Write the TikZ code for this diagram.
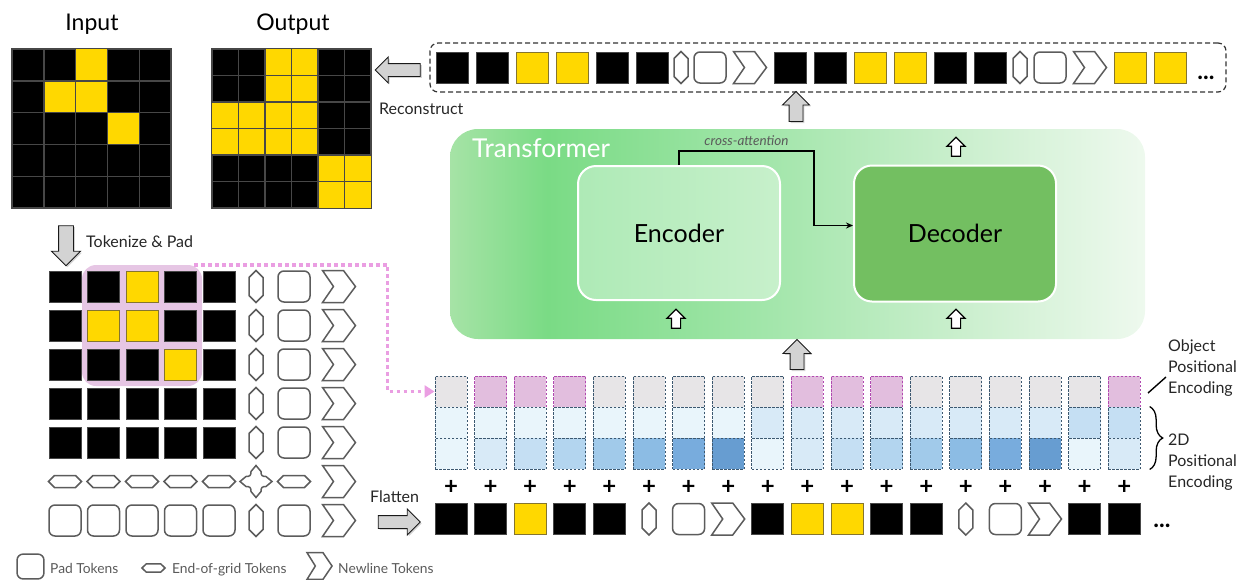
\documentclass[tikz,border=0pt]{standalone}
\usepackage{fontspec}
\setmainfont{Lato}
\usetikzlibrary{shapes.arrows,arrows.meta,positioning,calc,decorations.pathreplacing,shadows}

\definecolor{cellyel}{HTML}{FFD800}
\definecolor{yelrim}{HTML}{85752E}
\definecolor{cellrim}{HTML}{474747}
\definecolor{tokline}{HTML}{5C5C5C}
\definecolor{objpink}{HTML}{E2BEDE}
\definecolor{objrim}{HTML}{B14AB0}
\definecolor{objgray}{HTML}{E7E5E7}
\definecolor{perim}{HTML}{3C5870}
\definecolor{hlpink}{HTML}{E6C6E4}
\definecolor{linkpink}{HTML}{EA9EE2}
\definecolor{arrgray}{HTML}{D3D3D3}
\definecolor{txgray}{HTML}{5A5A5A}
\definecolor{bl0}{HTML}{E9F5FB}
\definecolor{bl1}{HTML}{D8EAF7}
\definecolor{bl2}{HTML}{C5DFF3}
\definecolor{bl3}{HTML}{B3D5EF}
\definecolor{bl4}{HTML}{A1CAEA}
\definecolor{bl5}{HTML}{8CBCE4}
\definecolor{bl6}{HTML}{78ACDD}
\definecolor{bl7}{HTML}{679DD1}
\definecolor{trA}{HTML}{A6E3A6}
\definecolor{trB}{HTML}{7ADB85}
\definecolor{trC}{HTML}{A3E6AB}
\definecolor{trD}{HTML}{CBEFCE}
\definecolor{trE}{HTML}{EEF9EE}
\definecolor{encL}{HTML}{AEEAB6}
\definecolor{encR}{HTML}{C7F0CB}
\definecolor{decfill}{HTML}{73BF61}

\pgfdeclarehorizontalshading{trshade}{100bp}{color(0bp)=(trA); color(25bp)=(trA); color(32bp)=(trB); color(48bp)=(trC); color(62bp)=(trD); color(75bp)=(trE); color(100bp)=(trE)}

\tikzstyle{gridframe} = [rectangle, minimum size=159pt, inner sep=0pt, fill=black, draw=cellrim, line width=1.4pt]
\tikzstyle{gridline} = [draw=cellrim, line width=1.4pt]
\tikzstyle{tokshape} = [draw=tokline, line width=1.5pt, fill=white, line join=miter]
\tikzstyle{bigarrow} = [single arrow, draw=black!90, fill=arrgray, line width=0.9pt, inner sep=6.5pt, single arrow head extend=6.5pt, drop shadow={shadow xshift=1.5pt, shadow yshift=-1.5pt, opacity=0.35}]
\tikzstyle{smallarrow} = [single arrow, draw=black, fill=white, line width=1.2pt, inner sep=4pt, minimum height=19pt, single arrow head extend=4.5pt, shape border rotate=90]
\tikzstyle{pecell} = [rectangle, minimum width=32pt, minimum height=31pt, inner sep=0pt, draw=perim, dash pattern=on 2.5pt off 1.5pt, line width=0.9pt]
\tikzstyle{objon} = [fill=objpink, draw=objrim]
\tikzstyle{objoff} = [fill=objgray]
\tikzstyle{plussign} = [font=\fontsize{24}{24}\selectfont\bfseries, inner sep=0pt]
\tikzstyle{dots} = [font=\fontsize{24}{24}\selectfont\bfseries, inner sep=0pt, anchor=base]
\tikzstyle{objlink} = [draw=linkpink, line width=3.5pt, dash pattern=on 3.5pt off 3.5pt, -{Triangle[length=10pt,width=12pt]}]
\tikzstyle{xattn} = [draw=black, line width=1.3pt, -{Stealth[length=7pt,width=6pt]}]
\tikzstyle{gridtitle} = [font=\fontsize{23}{27}\selectfont, inner sep=0pt, anchor=base]
\tikzstyle{steptext} = [font=\fontsize{16}{19}\selectfont, inner sep=0pt, anchor=base west, text=black!85]
\tikzstyle{sidenote} = [font=\fontsize{16}{21}\selectfont, inner sep=0pt, anchor=west, align=left, text=black!85]
\tikzstyle{keytext} = [font=\fontsize{13.8}{16}\selectfont, text=txgray, inner sep=0pt, anchor=base west]
\tikzstyle{trbox} = [rectangle, minimum width=695pt, minimum height=210pt, rounded corners=28pt, shading=trshade]
\tikzstyle{encbox} = [rectangle, minimum width=202pt, minimum height=134pt, rounded corners=18pt, draw=white, line width=2pt, left color=encL, right color=encR, font=\fontsize{25}{30}\selectfont]
\tikzstyle{decbox} = [rectangle, minimum width=202pt, minimum height=136pt, rounded corners=18pt, draw=white, line width=2pt, fill=decfill, font=\fontsize{25}{30}\selectfont]

\tikzset{
  tokb/.pic={\draw[fill=black, draw=cellrim, line width=1pt] (-16,-15.5) rectangle (16,15.5);},
  toky/.pic={\draw[fill=cellyel, draw=yelrim, line width=1pt] (-16,-15.5) rectangle (16,15.5);},
  tokp/.pic={\draw[tokshape, rounded corners=6pt] (-16,-15.5) rectangle (16,15.5);},
  toke/.pic={\draw[tokshape] (0,-16)--(7,-9)--(7,9)--(0,16)--(-7,9)--(-7,-9)--cycle;},
  tokh/.pic={\draw[tokshape] (-16.5,0)--(-10.5,-6)--(10.5,-6)--(16.5,0)--(10.5,6)--(-10.5,6)--cycle;},
  tokn/.pic={\draw[tokshape] (-16.5,-16)--(4.5,-16)--(16.5,0)--(4.5,16)--(-16.5,16)--(-5.5,0)--cycle;},
  toks/.pic={\draw[tokshape] (0,-16)--(5,-10) .. controls (5,-6) and (6,-5) .. (10,-5)--(16,0)--(10,5) .. controls (6,5) and (5,6) .. (5,10)--(0,16)--(-5,10) .. controls (-5,6) and (-6,5) .. (-10,5)--(-16,0)--(-10,-5) .. controls (-6,-5) and (-5,-6) .. (-5,-10)--cycle;}
}

\begin{document}
\begin{tikzpicture}[x=1pt, y=-1pt]
	\useasboundingbox (0,0) rectangle (1249,579);

	% Input grid
	\node[gridframe] (ingrid) at (91.5,128.5) {};
	\foreach \r/\c in {0/2,1/1,1/2,2/3}
		\fill[cellyel] ({12+31.8*\c},{49+31.8*\r}) rectangle ++(31.8,31.8);
	\foreach \k in {1,...,4}
		\draw[gridline] ({12+31.8*\k},49) -- ++(0,159) (12,{49+31.8*\k}) -- ++(159,0);
	\draw[gridline] (ingrid.north west) rectangle (ingrid.south east);
	\node[gridtitle] (inlbl) at (92,30) {Input};

	% Output grid
	\node[gridframe] (outgrid) at (291.5,128.5) {};
	\foreach \r/\c in {0/2,0/3,1/2,1/3,2/0,2/1,2/2,2/3,3/0,3/1,3/2,3/3,4/4,4/5,5/4,5/5}
		\fill[cellyel] ({212+26.5*\c},{49+26.5*\r}) rectangle ++(26.5,26.5);
	\foreach \k in {1,...,5}
		\draw[gridline] ({212+26.5*\k},49) -- ++(0,159) (212,{49+26.5*\k}) -- ++(159,0);
	\draw[gridline] (outgrid.north west) rectangle (outgrid.south east);
	\node[gridtitle] (outlbl) at (293,30) {Output};

	% Output sequence
	\node[draw=black!80, line width=1.2pt, dash pattern=on 5pt off 3pt, rounded corners=8pt, minimum width=796pt, minimum height=49pt] (outseq) at (828,67.5) {};
	\foreach \x/\t in {452/b,492/b,532/y,572/y,612/b,652/b,681/e,710/p,750/n,790/b,830/b,870/y,910/y,950/b,990/b,1020/e,1050/p,1090/n,1130/y,1170/y}
		\pic at (\x,67.5) {tok\t};
	\node[dots] (outmore) at (1206,79) {...};
	\node[bigarrow, minimum height=45pt, inner sep=6pt, shape border rotate=180] (recarr) at (401,70) {};
	\node[steptext] (reclbl) at (379,114) {Reconstruct};
	\node[bigarrow, minimum height=30pt, shape border rotate=90] (outarr) at (796,110) {};

	% Transformer
	\node[trbox] (tr) at (797.5,234) {};
	\node[font=\fontsize{26}{30}\selectfont, text=white, inner sep=0pt, anchor=base west] (trname) at (472,157) {Transformer};
	\node[encbox] (enc) at (679,233) {Encoder};
	\node[decbox] (dec) at (955,233.5) {Decoder};
	\node[smallarrow] (encin) at (676,321) {};
	\node[smallarrow] (decin) at (956,321) {};
	\node[smallarrow] (decout) at (956,149) {};
	\draw[xattn] (enc.north) -- ++(0,-14) -| node[pos=0.25, above=1pt, font=\fontsize{13.5}{15}\selectfont\itshape, text=txgray] (xlbl) {cross-attention} ([xshift=-39pt,yshift=8pt]dec.west) -- ([yshift=8pt]dec.west);
	\node[bigarrow, minimum height=30pt, single arrow head extend=7pt, shape border rotate=90] (inarr) at (797,358) {};

	% Tokenized grid
	\node[rectangle, minimum width=120pt, minimum height=121pt, rounded corners=14pt, fill=hlpink] (hl) at (142,325.5) {};
	\foreach \row [count=\r from 0] in {{b,b,y,b,b,e,p,n},{b,y,y,b,b,e,p,n},{b,b,b,y,b,e,p,n},{b,b,b,b,b,e,p,n},{b,b,b,b,b,e,p,n},{h,h,h,h,h,s,h,n},{p,p,p,p,p,e,p,n}}
		\foreach \t [count=\c from 0] in \row {
			\pgfmathsetmacro\gx{{65,103.5,142,180.5,219,256,294,339}[\c]}
			\pic at (\gx,{286.5+39*\r}) {tok\t};
		}
	\node[bigarrow, minimum height=40pt, inner sep=7pt, single arrow head extend=7pt, shape border rotate=270] (tokarr) at (66,242) {};
	\node[steptext] (toklbl) at (86,247) {Tokenize \& Pad};

	% Positional encodings
	\foreach \o [count=\i from 0] in {off,on,on,on,off,off,off,off,off,on,on,on,off,off,off,off,off,on} {
		\pgfmathsetmacro\px{451+39.6*\i}
		\pgfmathtruncatemacro\pr{\i/8}
		\pgfmathtruncatemacro\pc{mod(\i,8)}
		\node[pecell, obj\o] (obj\i) at (\px,391.5) {};
		\node[pecell, fill=bl\pr] (row\i) at (\px,422.5) {};
		\node[pecell, fill=bl\pc] (col\i) at (\px,453.5) {};
		\node[plussign] (plus\i) at (\px,487) {+};
	}
	\draw[objlink] ([xshift=-8pt]hl.north east) -| ($(obj0.west)+(-47,0)$) -- (obj0.west);

	% Input sequence
	\foreach \t [count=\i from 0] in {b,b,y,b,b,e,p,n,b,y,y,b,b,e,p,n,b,b}
		\pic at ({451+39.6*\i},519) {tok\t};
	\node[dots] (inmore) at (1162,527) {...};
	\node[bigarrow, minimum height=42pt, inner sep=6pt] (flatarr) at (396,522) {};
	\node[steptext] (flatlbl) at (370,502) {Flatten};

	% Side labels
	\node[sidenote] (objlbl) at (1168,368) {Object\\Positional\\Encoding};
	\draw[line width=1.4pt] ($(objlbl.west)+(-20,25)$) -- ++(18,-16);
	\node[sidenote] (poslbl) at (1168,462) {2D\\Positional\\Encoding};
	\draw[decorate, decoration={brace, amplitude=13pt}, line width=1.3pt] ([xshift=9pt]row17.north east) -- ([xshift=9pt]col17.south east);

	% Legend
	\pic[xscale=0.84, yscale=0.8] at (30.5,566.5) {tokp};
	\node[keytext] (padkey) at (50,573) {Pad Tokens};
	\pic[xscale=0.7, yscale=0.67] at (153.5,568) {tokh};
	\node[keytext] (eogkey) at (172,573) {End-of-grid Tokens};
	\pic[xscale=0.76, yscale=0.84] at (319.5,566) {tokn};
	\node[keytext] (nlkey) at (338,573) {Newline Tokens};
\end{tikzpicture}
\end{document}
